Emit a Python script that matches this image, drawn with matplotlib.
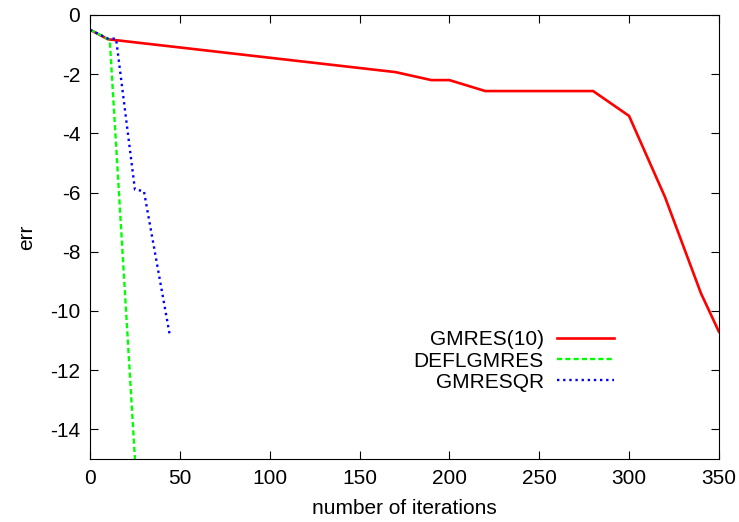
import numpy as np
import matplotlib.pyplot as plt

plt.rcParams['font.family'] = ['Liberation Sans', 'DejaVu Sans']
plt.rcParams['axes.unicode_minus'] = False

# GMRES(10)
it_gmres = [0, 10, 170, 190, 200, 220, 280, 300, 320, 340, 350]
err_gmres = [-0.5, -0.82, -1.93, -2.2, -2.2, -2.57, -2.57, -3.41, -6.15, -9.4, -10.7]

# DEFLGMRES
it_defl = [0, 5, 11, 26]
err_defl = [-0.5, -0.65, -0.85, -16.0]

# GMRESQR
it_qr = [0, 5, 10, 14.5, 25, 30, 44.5]
err_qr = [-0.5, -0.65, -0.8, -0.8, -5.9, -5.95, -10.85]

fig = plt.figure(figsize=(7.39, 5.22), dpi=100)
ax = fig.add_axes([0.1218, 0.1207, 0.851, 0.8506])

ax.plot(it_gmres, err_gmres, color='#ff0000', lw=1.9, label='GMRES(10)')
ax.plot(it_defl, err_defl, color='#00ff00', lw=1.7, ls=(0, (2.2, 1.3)), label='DEFLGMRES')
ax.plot(it_qr, err_qr, color='#0000ff', lw=1.7, ls=(0, (1, 1.6)), label='GMRESQR')

ax.set_xlim(0, 350)
ax.set_ylim(-15, 0)
ax.set_xticks(np.arange(0, 351, 50))
ax.set_yticks(np.arange(-14, 1, 2))
ax.tick_params(direction='in', length=6, top=True, right=True, labelsize=15, pad=7)
ax.set_xlabel('number of iterations', fontsize=15, labelpad=8)
ax.set_ylabel('err', fontsize=15, labelpad=10)

ax.legend(loc='center right', bbox_to_anchor=(0.833, 0.2207), frameon=False,
          markerfirst=False, fontsize=15, handlelength=2.75, handletextpad=0.62,
          labelspacing=0.1, borderpad=0, borderaxespad=0)

fig.savefig('out.png', dpi=100)
